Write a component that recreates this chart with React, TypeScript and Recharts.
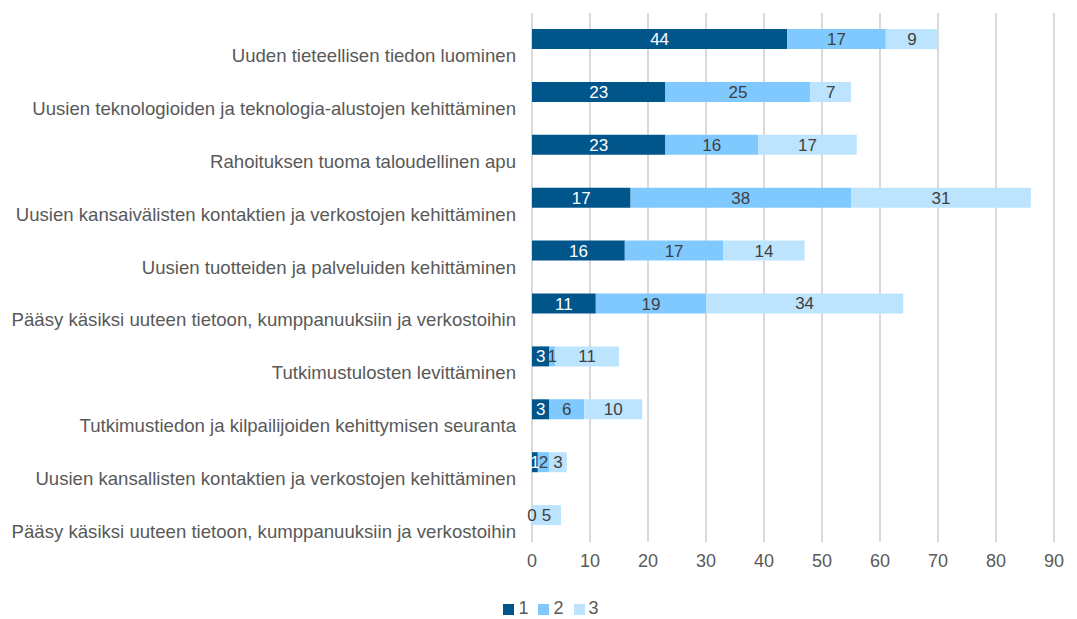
import React from "react";
import { BarChart, Bar, XAxis, YAxis, CartesianGrid, Legend, LabelList } from "recharts";

const categories = [
  "Uuden tieteellisen tiedon luominen",
  "Uusien teknologioiden ja teknologia-alustojen kehittäminen",
  "Rahoituksen tuoma taloudellinen apu",
  "Uusien kansaivälisten kontaktien ja verkostojen kehittäminen",
  "Uusien tuotteiden ja palveluiden kehittäminen",
  "Pääsy käsiksi uuteen tietoon, kumppanuuksiin ja verkostoihin",
  "Tutkimustulosten levittäminen",
  "Tutkimustiedon ja kilpailijoiden kehittymisen seuranta",
  "Uusien kansallisten kontaktien ja verkostojen kehittäminen",
  "Pääsy käsiksi uuteen tietoon, kumppanuuksiin ja verkostoihin ",
];
const series1 = [44, 23, 23, 17, 16, 11, 3, 3, 1, 0];
const series2: (number | null)[] = [17, 25, 16, 38, 17, 19, 1, 6, 2, null];
const series3 = [9, 7, 17, 31, 14, 34, 11, 10, 3, 5];
const xTicks = [0, 10, 20, 30, 40, 50, 60, 70, 80, 90];

const data = categories.map((name, i) => ({
  name,
  s1: series1[i],
  s2: series2[i],
  s3: series3[i],
}));

const TEXT = "#595959";
const LABEL = "#404040";
const FONT = "'Liberation Sans', Arial, sans-serif";
const FS = 18;
const YFS = 18.6;
const LFS = 17;
const Y_AXIS_WIDTH = 532;
const Y_LABEL_GAP = 16;

const YTick = (props: any) => {
  const { y, payload } = props;
  return (
    <text x={Y_AXIS_WIDTH - Y_LABEL_GAP} y={y + 16} dy="0.35em" textAnchor="end" fill={TEXT} fontSize={YFS} fontFamily={FONT}>
      {String(payload.value).trim()}
    </text>
  );
};

const S3Label = (props: any) => {
  const { x, y, width, height, value, index } = props;
  const cy = y + height / 2;
  const zeroLabel = series1[index] === 0 && (series2[index] === null || series2[index] === 0);
  return (
    <g>
      {zeroLabel && (
        <text x={x} y={cy} dy="0.35em" textAnchor="middle" fill={LABEL} fontSize={LFS} fontFamily={FONT}>
          {series1[index]}
        </text>
      )}
      <text x={x + width / 2} y={cy} dy="0.35em" textAnchor="middle" fill={LABEL} fontSize={LFS} fontFamily={FONT}>
        {value}
      </text>
    </g>
  );
};

export default function App() {
  return (
    <div style={{ position: "absolute", left: 0, top: 0, width: 1077, height: 619, background: "#fff" }}>
      <BarChart
        layout="vertical"
        width={1077}
        height={619}
        data={data}
        margin={{ top: 13, right: 23, left: 0, bottom: 26 }}
        barSize={20}
        style={{ fontFamily: FONT }}
      >
        <CartesianGrid horizontal={false} stroke="#D9D9D9" strokeWidth={2} />
        <XAxis
          type="number"
          domain={[0, 90]}
          ticks={xTicks}
          axisLine={false}
          tickLine={false}
          tick={{ fill: TEXT, fontSize: FS, fontFamily: FONT }}
          tickMargin={6}
          height={30}
        />
        <YAxis
          type="category"
          dataKey="name"
          width={Y_AXIS_WIDTH}
          axisLine={false}
          tickLine={false}
          tick={<YTick />}
          interval={0}
        />
        <Legend
          verticalAlign="bottom"
          align="center"
          iconType="square"
          iconSize={11}
          wrapperStyle={{ bottom: 0, left: 29 }}
          formatter={(v: string) => <span style={{ color: TEXT, fontSize: FS, fontFamily: FONT }}>{v}</span>}
        />
        <Bar dataKey="s1" name="1" stackId="a" fill="#00558B" isAnimationActive={false}>
          <LabelList dataKey="s1" position="center" fill="#FFFFFF" fontSize={LFS} fontFamily={FONT} />
        </Bar>
        <Bar dataKey="s2" name="2" stackId="a" fill="#7FC9FF" isAnimationActive={false}>
          <LabelList dataKey="s2" position="center" fill={LABEL} fontSize={LFS} fontFamily={FONT} />
        </Bar>
        <Bar dataKey="s3" name="3" stackId="a" fill="#BDE4FF" isAnimationActive={false}>
          <LabelList dataKey="s3" content={<S3Label />} />
        </Bar>
      </BarChart>
    </div>
  );
}
